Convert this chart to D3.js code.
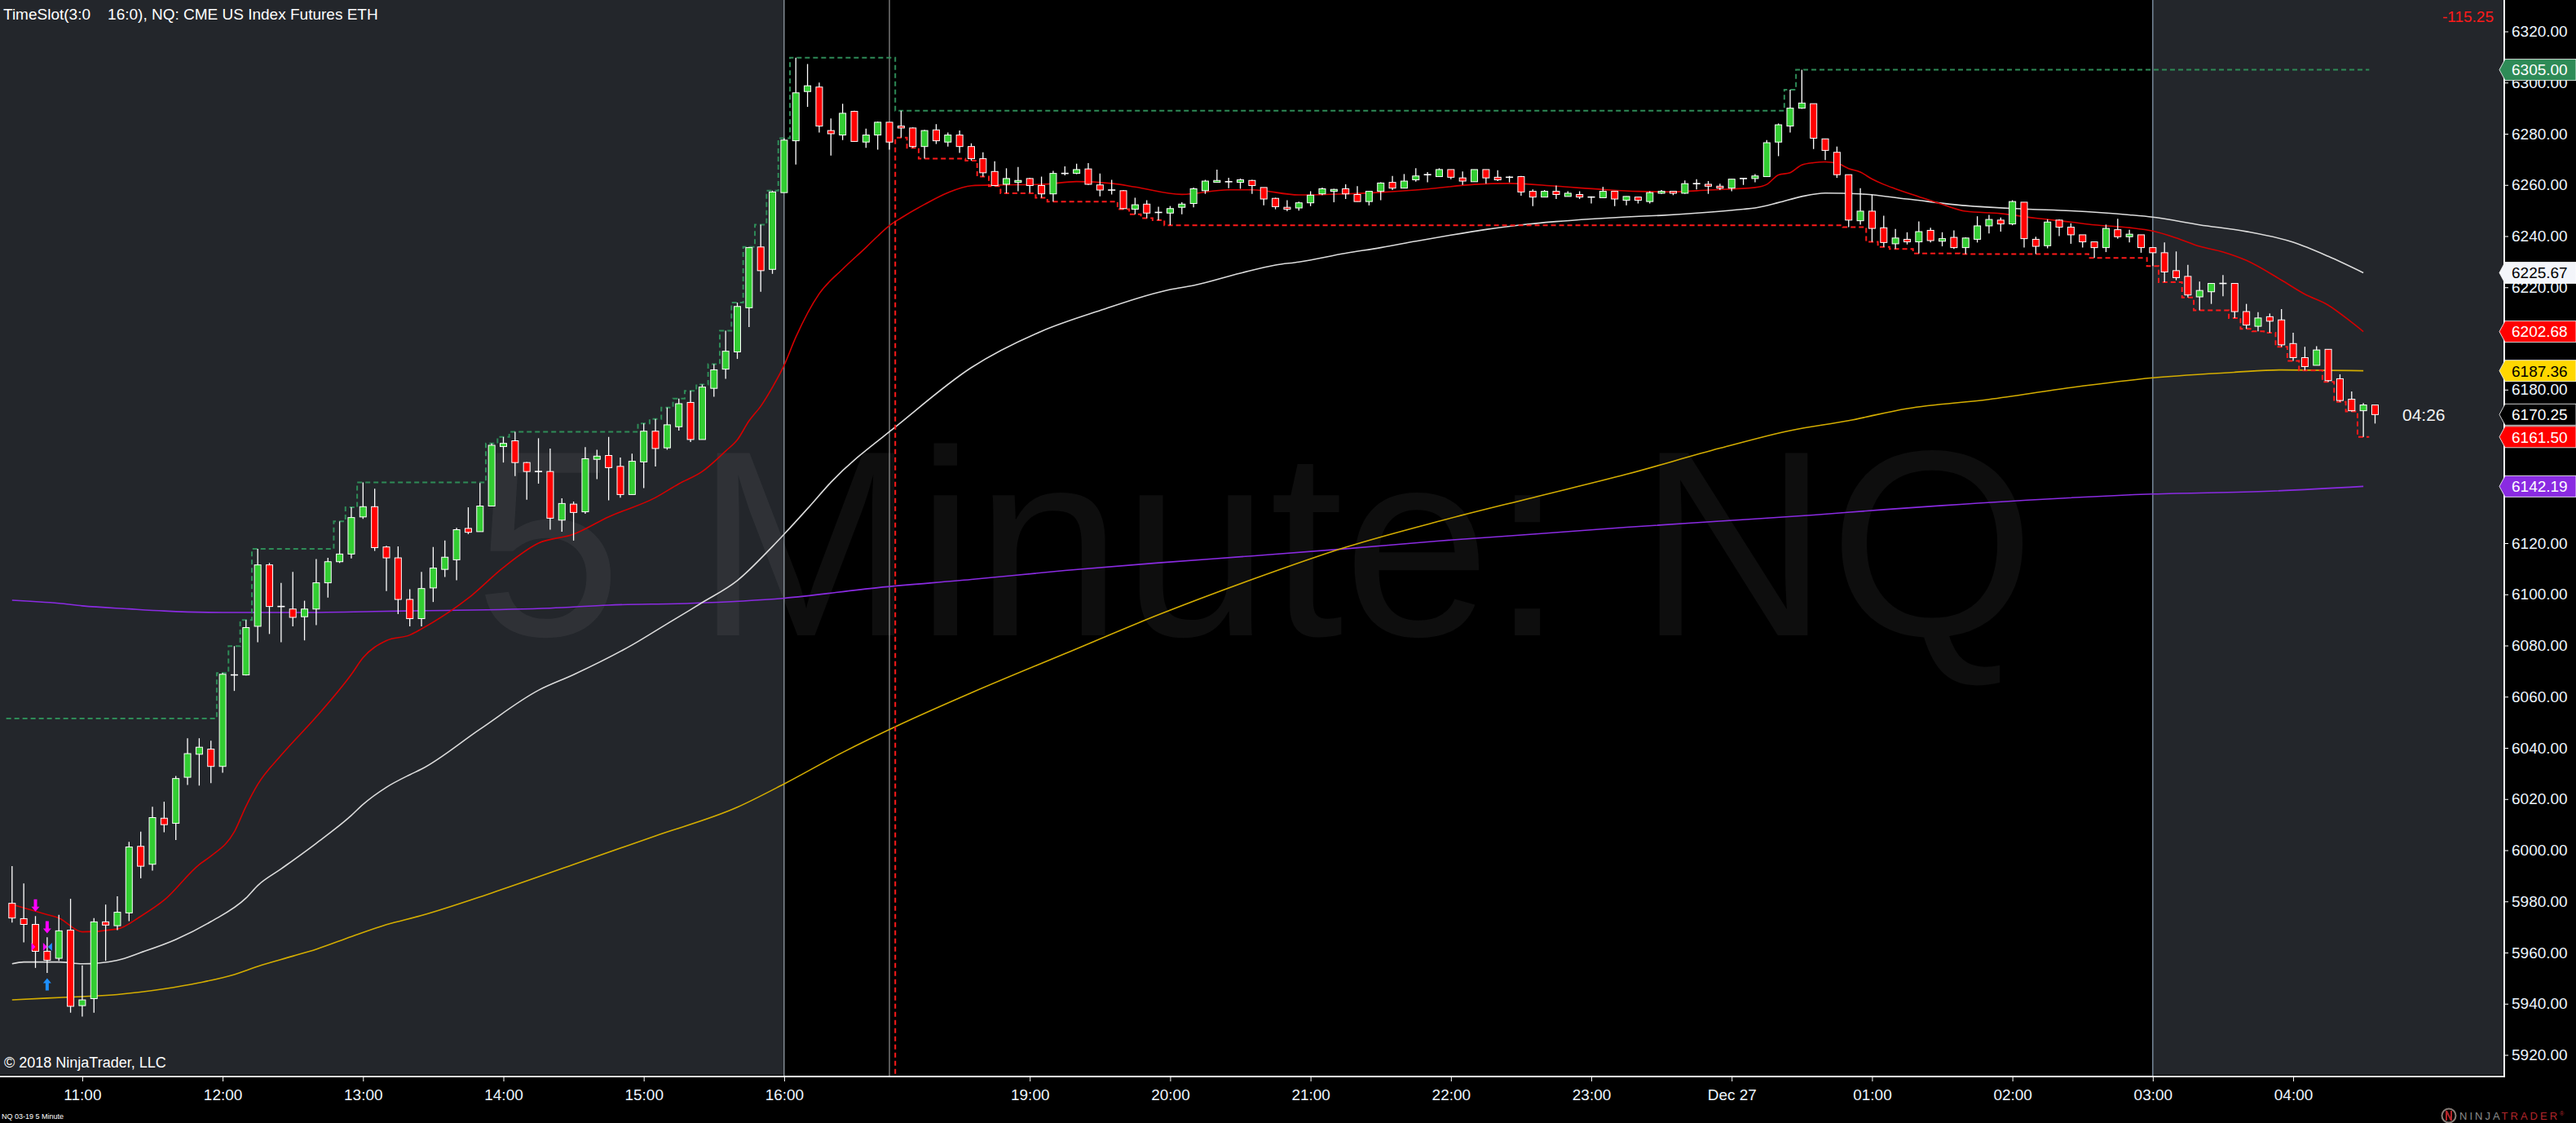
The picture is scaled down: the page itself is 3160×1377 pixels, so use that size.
<!DOCTYPE html>
<html>
<head>
<meta charset="utf-8">
<script src="https://cdn.jsdelivr.net/npm/d3@7"></script>
<style>
    html, body { margin: 0; padding: 0; background: #000; }
    svg { display: block; font-family: "Liberation Sans", Arial, sans-serif; }
</style>
</head>
<body>
<svg id="chart"></svg>
<script>
// NQ 03-19, 5 minute bars, 10:30 Dec 26 -> 04:35 Dec 27 (one row per bar: open, high, low, close)
var ohlc = [
    [5979.25, 5993.75, 5971.75, 5973.5], [5973.25, 5987, 5964, 5971], [5971, 5974.25, 5954, 5960.5],
    [5960.5, 5966, 5952, 5957], [5957.75, 5974.75, 5956.75, 5968.5], [5968.75, 5981, 5936.5, 5939],
    [5939.25, 5955, 5935, 5941.5], [5942, 5973.5, 5936.5, 5972], [5972, 5978.75, 5956.75, 5970.75],
    [5970.5, 5982, 5968.75, 5975.75], [5975.5, 6003.25, 5972.25, 6001.25], [6001.5, 6007.25, 5989, 5993.75],
    [5994.5, 6017, 5992, 6012.75], [6012.5, 6019, 6007, 6010], [6010.5, 6029, 6004, 6028],
    [6028.5, 6043.75, 6025.5, 6037.75], [6037.5, 6043.75, 6025.25, 6040.25], [6039.5, 6042.75, 6026.25, 6032.75],
    [6032.75, 6069.25, 6030.25, 6068.75], [6068.5, 6079.75, 6062.25, 6068.5], [6068.5, 6090, 6068.25, 6087],
    [6087.5, 6117.75, 6081.25, 6111.5], [6111.5, 6112.25, 6084.5, 6095.25], [6095.25, 6104.5, 6081.25, 6095.25],
    [6094.25, 6108.75, 6087.5, 6091], [6091.25, 6097.5, 6082, 6094.25], [6094.25, 6113.75, 6088, 6104.5],
    [6104.5, 6114.25, 6098.75, 6112.75], [6112.75, 6128.5, 6112.25, 6115.75], [6115.75, 6134, 6114, 6130],
    [6130.25, 6143.75, 6129.5, 6134.25], [6134.25, 6141.25, 6117, 6118.25], [6118.5, 6119, 6101.25, 6114.25],
    [6114.25, 6118.75, 6092.25, 6098], [6098, 6102, 6087.5, 6090.5], [6090.5, 6108.75, 6087.5, 6102.25],
    [6102.5, 6118.5, 6097, 6110.25], [6109.75, 6121, 6106.75, 6114.5], [6113.5, 6126, 6105.5, 6125.25],
    [6125.75, 6134, 6123.5, 6124.25], [6124.5, 6143.5, 6124.5, 6134.5], [6134.5, 6159, 6134.5, 6158.25],
    [6157.75, 6161.5, 6151.5, 6159], [6160, 6163.5, 6146.25, 6151.5], [6151.5, 6151.75, 6137, 6148],
    [6148, 6161, 6143.25, 6148], [6148, 6157, 6125.25, 6129.75], [6129, 6137.5, 6124.5, 6135.5],
    [6135.25, 6136.25, 6121, 6132], [6132.25, 6157.5, 6131.5, 6153], [6152.75, 6156.5, 6145, 6154],
    [6154.25, 6161.5, 6136.75, 6149.5], [6150, 6153.5, 6137.75, 6139], [6139, 6155, 6139, 6152],
    [6151.75, 6166.75, 6141.5, 6163.75], [6163.75, 6168.5, 6150, 6157], [6157.25, 6173, 6156.5, 6166.25],
    [6165.5, 6176.5, 6164, 6174.5], [6175, 6179.5, 6159.5, 6160.5], [6160.5, 6182, 6160.5, 6181],
    [6180.5, 6190, 6177.25, 6187.75], [6188, 6203, 6184.25, 6195], [6194.75, 6214, 6192, 6212.5],
    [6212, 6235.75, 6204.5, 6235.5], [6235.75, 6244.5, 6218.25, 6226.5], [6227, 6257.75, 6225.25, 6257.25],
    [6257, 6278.25, 6257, 6277.5], [6277.25, 6309.75, 6268, 6296], [6296.5, 6307.25, 6290.5, 6298.75],
    [6298.25, 6300, 6280.5, 6283], [6281.25, 6286, 6271.5, 6280], [6279.5, 6291.75, 6277.5, 6288],
    [6288.75, 6289, 6277, 6277], [6276.75, 6282, 6274.5, 6279.5], [6279.5, 6284.75, 6273.75, 6284.5],
    [6284.5, 6284.5, 6273.75, 6276.75],
    [6283, 6289, 6278.5, 6282.25], [6282.25, 6282.5, 6274.5, 6275], [6275, 6281.5, 6270.25, 6281.25],
    [6281.5, 6283.75, 6276, 6277.25], [6276.75, 6280.5, 6275, 6279.5], [6279.5, 6281.25, 6272.5, 6275],
    [6275, 6276.25, 6269.5, 6270.25], [6270.25, 6272.75, 6263.25, 6264.75], [6265.25, 6269.25, 6259.5, 6259.75],
    [6260.25, 6266.5, 6256.75, 6262.5], [6261, 6267, 6257.5, 6261.75], [6262.5, 6262.75, 6257, 6259.75],
    [6259.75, 6263.25, 6255, 6256.5], [6256.5, 6265.5, 6253.5, 6264.5], [6264.5, 6267.25, 6263.75, 6264.5],
    [6264.5, 6268.25, 6264.25, 6266], [6266.25, 6268.5, 6260, 6260.25], [6260, 6264.5, 6255.5, 6258],
    [6258, 6262, 6256.25, 6258], [6257.75, 6258, 6250.5, 6250.75], [6250.5, 6255, 6248.5, 6252.25],
    [6252.5, 6254, 6247, 6249], [6249.25, 6251.5, 6246.25, 6249.25], [6249, 6251.75, 6244.25, 6250.75],
    [6251.25, 6253.25, 6248.5, 6252.5], [6252.75, 6259, 6251.25, 6258.5], [6257.75, 6262, 6256.5, 6261.5],
    [6261, 6266, 6261, 6261.75], [6261.25, 6262.75, 6258.75, 6261.25], [6261, 6262.5, 6258.5, 6262],
    [6261.75, 6262, 6256.5, 6259.75], [6259, 6259, 6252, 6254.5], [6254.75, 6255, 6250.5, 6251.5],
    [6251.25, 6254, 6249.75, 6250.5], [6251, 6253.5, 6250, 6253], [6253, 6257.5, 6251.75, 6256],
    [6256.5, 6259, 6256, 6258.5], [6257.5, 6258.5, 6253.25, 6258.25], [6258.5, 6260.25, 6254.5, 6256.5],
    [6256.25, 6259.5, 6253.5, 6253.5], [6253.5, 6257.5, 6252, 6257.5], [6257.5, 6261, 6254, 6260.75],
    [6261, 6263.5, 6258, 6258.75], [6258.75, 6264.25, 6258.75, 6261.5], [6262, 6266.5, 6261.25, 6263.5],
    [6264, 6265, 6261, 6264], [6263.25, 6266.5, 6263.25, 6266], [6266, 6266, 6262.25, 6263],
    [6262.75, 6265.25, 6260, 6261.5], [6261.25, 6266, 6261.25, 6266], [6266, 6266, 6260.5, 6262.75],
    [6263, 6265.75, 6261.5, 6262], [6263, 6263.5, 6261, 6263], [6263.25, 6263.5, 6255.75, 6257.25],
    [6257.5, 6258.25, 6251.75, 6255.25], [6255.25, 6258, 6255.25, 6257.5], [6257.5, 6259.75, 6254.5, 6256.25],
    [6255.5, 6257.5, 6255.5, 6256.75], [6256.25, 6257.5, 6254.5, 6255.25], [6255.25, 6255.5, 6252.75, 6255.25],
    [6255, 6259.25, 6255, 6257.5], [6257.5, 6257.5, 6251.75, 6254.5], [6254, 6255.5, 6252, 6255.5],
    [6255.25, 6255.25, 6252.75, 6254], [6253.5, 6257.5, 6252.75, 6257], [6256.75, 6258, 6256.5, 6257.5],
    [6257.5, 6257.5, 6256, 6256.75], [6256.75, 6261.75, 6256.5, 6260.5], [6260.5, 6262.25, 6258.25, 6260.5],
    [6260.25, 6261.5, 6256.5, 6259.5], [6259.5, 6260.5, 6258, 6258.75], [6258.75, 6262.25, 6257.5, 6262.25],
    [6262.5, 6262.5, 6260, 6262.5], [6262.5, 6264.25, 6261, 6263.5], [6263.25, 6277.5, 6263.25, 6276.5],
    [6276.75, 6284, 6271.25, 6283.5], [6283, 6297.25, 6280.5, 6290], [6290, 6305, 6289.75, 6292],
    [6291.75, 6291.75, 6274, 6278.25], [6278, 6278, 6269.75, 6273.5], [6272.75, 6275, 6262.75, 6264],
    [6264, 6264, 6243.5, 6246.25], [6246, 6258.75, 6244.5, 6249.75], [6249.75, 6256.25, 6237.75, 6243],
    [6243.25, 6248, 6235.75, 6237.5], [6237, 6242.75, 6235, 6239.25], [6238.75, 6241.5, 6236.75, 6237.75],
    [6237.75, 6245.75, 6233.25, 6241.75], [6242.25, 6243.25, 6237.5, 6238.25], [6238, 6241.5, 6236, 6239],
    [6239.5, 6242.25, 6235, 6235.5], [6235.5, 6239.5, 6233, 6239.25], [6238.75, 6247.75, 6237.5, 6244],
    [6244, 6248.25, 6241, 6246.5], [6246.25, 6247.25, 6241.75, 6244.75], [6244.75, 6254, 6244.25, 6253.5],
    [6253.25, 6253.25, 6235.5, 6239], [6238.75, 6239.75, 6233, 6236], [6236.25, 6246.5, 6235.25, 6245.5],
    [6246.25, 6246.5, 6240, 6243.5], [6243.5, 6245, 6237, 6240.5], [6240.5, 6240.5, 6235.5, 6237.75],
    [6237.75, 6237.75, 6231.5, 6235.5], [6235.5, 6244.5, 6233.75, 6243], [6242.5, 6246.75, 6239, 6239.75],
    [6239.75, 6242.5, 6237.5, 6240.75], [6240.5, 6240.5, 6233.5, 6235.5], [6235.5, 6235.5, 6228.25, 6233.5],
    [6233.5, 6237.5, 6222, 6226], [6226.5, 6234, 6222.75, 6223.75], [6224.25, 6228.75, 6216, 6217],
    [6216.25, 6222.25, 6211, 6218.75], [6218.25, 6221.5, 6213.5, 6221.5], [6221.5, 6224.75, 6216.5, 6221.5],
    [6221.5, 6221.5, 6208, 6210.5], [6210.5, 6213.5, 6203.75, 6205.25], [6204.75, 6210.25, 6202.75, 6208],
    [6208.5, 6209.75, 6202.25, 6206.75], [6207.25, 6211.5, 6196.75, 6197.5], [6198, 6202.25, 6191.25, 6192.5],
    [6192.5, 6196.75, 6187.5, 6189], [6189.5, 6197, 6189.5, 6195.5], [6195.75, 6195.75, 6183, 6183.5],
    [6184.25, 6186, 6175.25, 6175.75], [6176.25, 6179.25, 6171.5, 6171.75], [6171.75, 6174.75, 6161.5, 6174],
    [6174, 6174, 6166.75, 6170.25]
];

// indicator plots: [bar number, value]
var redLine = [
    [1, 5978.8], [4, 5974.8], [5, 5973.5], [7, 5968.1], [10, 5969.2], [12, 5974.2], [14, 5980.5],
    [17, 5994.4], [18, 5997.7], [20, 6007.2], [21, 6017.2], [22, 6025.7], [24, 6037.1], [27, 6052.1],
    [30, 6068.7], [31, 6075.2], [33, 6081.9], [35, 6084.1], [36, 6086.5], [40, 6098.5], [43, 6110.5],
    [46, 6120], [49, 6123.5], [52, 6130.3], [56, 6137.8], [58, 6143.2], [60, 6148], [62, 6156],
    [63, 6160.4], [64, 6167.8], [65, 6173.5], [66, 6180.9], [67, 6189.5], [68, 6200.5], [70, 6217.5],
    [72, 6227.1], [74, 6235.6], [75, 6240], [76, 6244.1], [77, 6247.1], [79, 6252.4], [81, 6257],
    [83, 6259.7], [85, 6260], [89, 6260.2], [92, 6261.3], [95, 6260.6], [97, 6259.2], [101, 6256.3],
    [105, 6258.1], [107, 6258.1], [111, 6256.1], [115, 6256.5], [118, 6257.1], [122, 6258.4], [126, 6260.2],
    [129, 6260.6], [133, 6259.5], [137, 6258.2], [140, 6257.5], [143, 6257.3], [146, 6258], [150, 6259],
    [151, 6260.2], [152, 6263.9], [153, 6264.8], [154, 6267.8], [155, 6268.7], [156, 6269], [157, 6268.5],
    [158, 6266.4], [159, 6265], [160, 6262.3], [161, 6260.2], [162, 6258.5], [164, 6255.4], [166, 6252.4],
    [168, 6249.7], [171, 6248.8], [174, 6247], [177, 6245.5], [179, 6244.4], [182, 6243.3], [184, 6242],
    [186, 6239.3], [188, 6236], [190, 6233.8], [192, 6230.5], [195, 6222.8], [197, 6217.3], [199, 6213],
    [201, 6206.3], [202, 6202.68]
];
var whiteLine = [
    [1, 5955.6], [2, 5956.3], [5, 5956.3], [7, 5955.6], [10, 5957], [12, 5960], [15, 5965.1], [18, 5972.1],
    [21, 5981.3], [22, 5986.2], [24, 5992.7], [27, 6002.7], [30, 6013.6], [31, 6017.9], [33, 6024.6],
    [35, 6029.5], [36, 6031.7], [41, 6047.3], [46, 6062.5], [49, 6068.6], [54, 6080.2], [57, 6088.5],
    [59, 6094], [60, 6096.8], [63, 6105.4], [66, 6118.7], [67, 6123.5], [69, 6133.5], [71, 6143.8],
    [77, 6167.2], [83, 6188.6], [89, 6202.8], [94, 6210.9], [100, 6219.1], [102, 6220.7], [106, 6225.5],
    [109, 6228.7], [111, 6229.9], [115, 6233.3], [118, 6235.5], [121, 6238], [124, 6240.4], [127, 6242.6],
    [130, 6244.4], [133, 6245.7], [136, 6246.7], [139, 6247.5], [142, 6248.1], [146, 6249.3], [149, 6250.5],
    [150, 6251], [152, 6253.1], [154, 6255.5], [156, 6256.8], [159, 6256.5], [163, 6254.5], [168, 6251.9],
    [173, 6250.6], [177, 6249.9], [182, 6248.3], [184, 6247.4], [188, 6244.4], [192, 6241.8], [196, 6237.6],
    [199, 6232.1], [202, 6225.67]
];
var goldLine = [
    [1, 5941.5], [4, 5942.2], [7, 5942.8], [10, 5943.6], [14, 5945.8], [17, 5948.2], [20, 5951.4],
    [22, 5954.6], [25, 5958.6], [27, 5961.3], [30, 5966.2], [33, 5970.9], [36, 5974.5], [42, 5983.3],
    [49, 5994.4], [56, 6005.6], [63, 6016.8], [67, 6025.9], [72, 6038.2], [77, 6049.3], [83, 6061.5],
    [91, 6076.8], [99, 6092], [107, 6105.8], [115, 6118.4], [123, 6128.6], [131, 6137.8], [139, 6146.9],
    [147, 6157.1], [153, 6164], [158, 6167.9], [163, 6172.6], [170, 6176.2], [177, 6180.8], [184, 6184.6],
    [191, 6186.8], [195, 6187.7], [202, 6187.36]
];
var purpleLine = [
    [1, 6097.7], [5, 6096.5], [7, 6095.5], [11, 6094.3], [14, 6093.5], [19, 6092.9], [25, 6092.9],
    [32, 6093.3], [36, 6093.6], [47, 6094.6], [52, 6095.8], [59, 6096.5], [67, 6098.5], [75, 6102.6],
    [83, 6105.8], [91, 6109.3], [99, 6112.3], [107, 6115], [115, 6117.8], [123, 6120.9], [131, 6123.5],
    [139, 6126.2], [147, 6128.6], [155, 6131], [161, 6133.1], [166, 6134.7], [184, 6139.2], [194, 6140.3],
    [202, 6142.19]
];

// signal markers near the open of the chart
var signals = [
    {bar: 3, type: "down", price: 5976, color: "#ff00ff"},
    {bar: 4, type: "down", price: 5967.5, color: "#ff00ff"},
    {bar: 4, type: "up", price: 5950, color: "#1e90ff"},
    {bar: 3, type: "right", price: 5962.2, color: "#ff00ff"},
    {bar: 4, type: "right", price: 5962.2, color: "#ff00ff"},
    {bar: 4, type: "left", price: 5962.2, color: "#1e90ff"}
];

var tickBars = [7, 19, 31, 43, 55, 67, 88, 100, 112, 124, 136, 148, 160, 172, 184, 196];
var tickLabels = ["11:00", "12:00", "13:00", "14:00", "15:00", "16:00", "19:00", "20:00", "21:00",
    "22:00", "23:00", "Dec 27", "01:00", "02:00", "03:00", "04:00"];

var badgeValues = [6305.00, 6225.67, 6202.68, 6187.36, 6170.25, 6161.50, 6142.19];
var badgeFills = ["#2e8b57", "#f3f5fa", "#ff0000", "#ffd700", "#000000", "#ff0000", "#8a2be2"];
var badgeText = ["#ffffff", "#000000", "#ffffff", "#000000", "#ffffff", "#ffffff", "#ffffff"];

var sessionOneHigh = 6051.5,
    sessionOneLow = 5900,
    sessionTwoStart = 77,
    lastClosedBar = 202,
    slotEndBar = 67,
    slotStartBar = 184,
    sessionEndBar = 76;

var width = 3160,
    height = 1377,
    plotRight = 3072,
    plotBottom = 1320,
    barStep = 14.35,
    halfStep = barStep / 2,
    bodyW = 8;

var x = d3.scaleLinear()
    .domain([1, 203])
    .range([14.8, 14.8 + 202 * barStep]);

var y = d3.scaleLinear()
    .domain([5920, 6320])
    .range([1293.5, 38.5]);

var svg = d3.select("#chart")
    .attr("width", width)
    .attr("height", height);

svg.append("defs")
    .append("clipPath")
        .attr("id", "plot-clip")
    .append("rect")
        .attr("width", plotRight)
        .attr("height", plotBottom);

svg.append("rect")
    .attr("width", width)
    .attr("height", height)
    .attr("fill", "#000");

var plot = svg.append("g")
    .attr("clip-path", "url(#plot-clip)");

// time slot shading 3:00 - 16:00
plot.append("rect")
    .attr("x", 0)
    .attr("y", 0)
    .attr("width", x(slotEndBar))
    .attr("height", plotBottom - 2)
    .attr("fill", "#23262b");
plot.append("rect")
    .attr("x", x(slotStartBar))
    .attr("y", 0)
    .attr("width", plotRight - x(slotStartBar))
    .attr("height", plotBottom - 2)
    .attr("fill", "#23262b");

plot.append("text")
    .attr("x", 582)
    .attr("y", 779)
    .style("font-size", "325px")
    .attr("fill", "#ffffff")
    .attr("fill-opacity", 0.055)
    .text("5 Minute: NQ");

plot.selectAll("line.sep")
    .data([[slotEndBar, "#b9c4cf"], [sessionEndBar, "#b0b0b0"], [slotStartBar, "#a9c3da"]])
    .enter()
    .append("line")
        .attr("class", "sep")
        .attr("x1", function(d) { return x(d[0]); })
        .attr("x2", function(d) { return x(d[0]); })
        .attr("y1", 0)
        .attr("y2", plotBottom)
        .attr("stroke", function(d) { return d[1]; })
        .attr("stroke-width", 1);

// moving averages
var maLine = d3.line()
    .x(function(d) { return x(d[0]); })
    .y(function(d) { return y(d[1]); })
    .curve(d3.curveMonotoneX);

[[purpleLine, "#8a2be2"], [goldLine, "#d4ad00"], [whiteLine, "#dcdcdc"], [redLine, "#d40000"]]
    .forEach(function(s) {
        plot.append("path")
            .attr("d", maLine(s[0]))
            .attr("fill", "none")
            .attr("stroke", s[1])
            .attr("stroke-width", 1.6);
    });

// session high / low step lines
var stepHigh = [], stepLow = [], hi, lo;
ohlc.forEach(function(d, i) {
    var bar = i + 1;
    if (bar > lastClosedBar) return;
    if (bar === 1) { hi = sessionOneHigh; lo = sessionOneLow; }
    if (bar === sessionTwoStart) { hi = d[1]; lo = d[2]; }
    hi = Math.max(hi, d[1]);
    lo = Math.min(lo, d[2]);
    stepHigh.push([x(bar) - halfStep, hi], [x(bar) + halfStep, hi]);
    stepLow.push([x(bar) - halfStep, lo], [x(bar) + halfStep, lo]);
});

var stepLine = d3.line()
    .x(function(d) { return d[0]; })
    .y(function(d) { return y(d[1]); });

plot.append("path")
    .attr("d", stepLine(stepHigh))
    .attr("fill", "none")
    .attr("stroke", "#2e8b57")
    .attr("stroke-width", 2)
    .attr("stroke-dasharray", "6,4");
plot.append("path")
    .attr("d", stepLine(stepLow))
    .attr("fill", "none")
    .attr("stroke", "#ff1a1a")
    .attr("stroke-width", 2)
    .attr("stroke-dasharray", "6,4");

// candles
var candle = plot.selectAll("g.candle")
    .data(ohlc)
    .enter()
    .append("g")
        .attr("class", "candle")
        .attr("transform", function(d, i) {
            return "translate(" + [x(i + 1), 0] + ")";
        });

candle.append("line")
    .attr("y1", function(d) { return y(d[1]); })
    .attr("y2", function(d) { return y(d[2]); })
    .attr("stroke", "#fff")
    .attr("stroke-width", 1.3);

candle.filter(function(d) { return d[0] !== d[3]; })
    .append("rect")
        .attr("x", -bodyW / 2)
        .attr("width", bodyW)
        .attr("y", function(d) { return y(Math.max(d[0], d[3])); })
        .attr("height", function(d) {
            return Math.max(2, Math.abs(y(d[0]) - y(d[3])));
        })
        .attr("fill", function(d) {
            return d[3] > d[0] ? "#32cd32" : "#ff0000";
        })
        .attr("stroke", "#fff")
        .attr("stroke-width", 1);

candle.filter(function(d) { return d[0] === d[3]; })
    .append("line")
        .attr("x1", -bodyW / 2 - 0.5)
        .attr("x2", bodyW / 2 + 0.5)
        .attr("y1", function(d) { return y(d[0]); })
        .attr("y2", function(d) { return y(d[0]); })
        .attr("stroke", "#fff")
        .attr("stroke-width", 1.6);

plot.selectAll("path.signal")
    .data(signals)
    .enter()
    .append("path")
        .attr("class", "signal")
        .attr("fill", function(d) { return d.color; })
        .attr("d", function(d) {
            var cx = x(d.bar), ty = y(d.price);
            if (d.type === "down") {
                return "M" + (cx - 2) + "," + (ty - 15) + "h4v9h3l-5,6l-5,-6h3z";
            }
            if (d.type === "up") {
                return "M" + (cx - 2) + "," + (ty + 15) + "h4v-9h3l-5,-6l-5,6h3z";
            }
            if (d.type === "right") {
                return "M" + (cx - 5) + "," + (ty - 5) + "l5,5l-5,5z";
            }
            return "M" + (cx + 6) + "," + (ty - 5) + "l-5,5l5,5z";
        });

// axes
var xAxis = svg.append("g")
    .attr("transform", "translate(0," + plotBottom + ")")
    .call(d3.axisBottom(x)
        .tickValues(tickBars)
        .tickSize(6)
        .tickPadding(10)
        .tickFormat(function(d) { return tickLabels[tickBars.indexOf(d)]; }));

// price labels hidden under a badge are left out
var priceTicks = d3.range(5920, 6321, 20).filter(function(v) {
    return !badgeValues.some(function(b) {
        return Math.abs(y(v) - y(b)) < 12;
    });
});

var yAxis = svg.append("g")
    .attr("transform", "translate(" + plotRight + ",0)")
    .call(d3.axisRight(y)
        .tickValues(priceTicks)
        .tickSize(5)
        .tickPadding(4)
        .tickFormat(d3.format(".2f")));

[xAxis, yAxis].forEach(function(a) {
    a.select(".domain").remove();
    a.selectAll(".tick line").attr("stroke", "#fff");
    a.selectAll(".tick text")
        .attr("fill", "#eef6ff")
        .style("font-family", "'Liberation Sans', Arial, sans-serif")
        .style("font-size", "19px");
});

svg.append("path")
    .attr("d", "M0," + plotBottom + "H" + plotRight + "V0")
    .attr("fill", "none")
    .attr("stroke", "#fff")
    .attr("stroke-width", 2);

// price badges on the axis
var badge = svg.selectAll("g.badge")
    .data(badgeValues)
    .enter()
    .append("g")
        .attr("class", "badge")
        .attr("transform", function(d) {
            return "translate(" + [plotRight, y(d)] + ")";
        });

badge.append("path")
    .attr("d", "M-6,0L1,-13H88V13H1Z")
    .attr("fill", function(d, i) { return badgeFills[i]; })
    .attr("stroke", "#ffffff")
    .attr("stroke-opacity", 0.8)
    .attr("stroke-width", 1);

badge.append("text")
    .attr("x", 9)
    .attr("dy", "0.36em")
    .style("font-size", "19px")
    .attr("fill", function(d, i) { return badgeText[i]; })
    .text(function(d) { return d3.format(".2f")(d); });

// texts
svg.append("text")
    .attr("x", 4)
    .attr("y", 24)
    .style("font-size", "19px")
    .style("white-space", "pre")
    .attr("fill", "#ffffff")
    .text("TimeSlot(3:0    16:0), NQ: CME US Index Futures ETH");

svg.append("text")
    .attr("x", 3059)
    .attr("y", 27)
    .attr("text-anchor", "end")
    .style("font-size", "19px")
    .attr("fill", "#ff1a1a")
    .text("-115.25");

svg.append("text")
    .attr("x", 2947)
    .attr("y", 516)
    .style("font-size", "21px")
    .attr("fill", "#f2f2f2")
    .text("04:26");

svg.append("text")
    .attr("x", 5)
    .attr("y", 1309)
    .style("font-size", "18px")
    .attr("fill", "#ffffff")
    .text("\u00a9 2018 NinjaTrader, LLC");

svg.append("text")
    .attr("x", 2)
    .attr("y", 1372)
    .style("font-size", "9px")
    .attr("fill", "#ffffff")
    .text("NQ 03-19 5 Minute");

var logo = svg.append("g")
    .attr("transform", "translate(3004,1368)");

logo.append("circle")
    .attr("r", 8.5)
    .attr("fill", "none")
    .attr("stroke", "#8a7f7a")
    .attr("stroke-width", 2);

logo.append("path")
    .attr("d", "M-3,-6L3,6M-3,6L-3,-6M3,-6L3,6")
    .attr("stroke", "#b3262b")
    .attr("stroke-width", 2)
    .attr("fill", "none");

var logoText = logo.append("text")
    .attr("x", 13)
    .attr("y", 5)
    .style("font-size", "13px")
    .style("letter-spacing", "3px");

logoText.append("tspan")
    .attr("fill", "#8c8c8c")
    .text("NINJA");
logoText.append("tspan")
    .attr("fill", "#b3262b")
    .text("TRADER");
logoText.append("tspan")
    .attr("fill", "#b3262b")
    .style("font-size", "7px")
    .attr("dy", -5)
    .text("\u00ae");
</script>
</body>
</html>
